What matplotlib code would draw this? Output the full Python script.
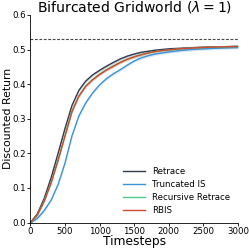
import matplotlib
matplotlib.use("Agg")
import matplotlib.pyplot as plt
import numpy as np

timesteps = [0, 100, 200, 300, 400, 500, 600, 700, 800, 900, 1000, 1100, 1200, 1300,
             1400, 1500, 1600, 1700, 1800, 1900, 2000, 2200, 2400, 2600, 2800, 3000]
retrace = [0, 0.025, 0.07, 0.13, 0.20, 0.272, 0.338, 0.382, 0.409, 0.427, 0.440, 0.452,
           0.463, 0.473, 0.481, 0.487, 0.492, 0.495, 0.498, 0.500, 0.502, 0.504, 0.506,
           0.507, 0.508, 0.509]
truncated_is = [0, 0.012, 0.035, 0.065, 0.11, 0.172, 0.25, 0.308, 0.346, 0.375, 0.398, 0.416,
                0.430, 0.442, 0.455, 0.467, 0.476, 0.482, 0.487, 0.490, 0.493, 0.498, 0.501,
                0.503, 0.505, 0.506]
recursive_retrace = [0, 0.022, 0.063, 0.116, 0.181, 0.252, 0.322, 0.366, 0.395, 0.414, 0.429,
                     0.442, 0.453, 0.463, 0.472, 0.479, 0.485, 0.490, 0.494, 0.497, 0.499,
                     0.503, 0.505, 0.507, 0.508, 0.509]
rbis = [0, 0.022, 0.062, 0.115, 0.18, 0.25, 0.32, 0.365, 0.394, 0.413, 0.428, 0.441, 0.452,
        0.463, 0.472, 0.479, 0.485, 0.490, 0.494, 0.497, 0.499, 0.503, 0.505, 0.507, 0.508,
        0.509]
optimal = 0.53

names = ["Retrace", "Truncated IS", "Recursive Retrace", "RBIS"]
series = [retrace, truncated_is, recursive_retrace, rbis]
colors = ["#2c3e50", "#3a93d6", "#4fcb85", "#d2492f"]

fig = plt.figure(figsize=(2.49, 2.49), dpi=100)
ax = fig.add_axes([0.122, 0.106, 0.834, 0.834])

t = np.array(timesteps)
for name, vals, c in zip(names, series, colors):
    v = np.array(vals)
    ax.fill_between(t, v - 0.004, v + 0.004, color=c, alpha=0.2, linewidth=0)
    ax.plot(t, v, color=c, lw=1.0, label=name)

ax.axhline(optimal, color="#444444", ls="--", lw=0.8, dashes=(2.5, 1.5))

ax.set_xlim(0, 3000)
ax.set_ylim(0, 0.6)
ax.set_xticks([0, 500, 1000, 1500, 2000, 2500, 3000])
ax.set_yticks([0.0, 0.1, 0.2, 0.3, 0.4, 0.5, 0.6])
ax.tick_params(labelsize=6.2, length=2.5, width=0.6, pad=1.0)
for s in ["top", "right"]:
    ax.spines[s].set_visible(False)
for s in ["left", "bottom"]:
    ax.spines[s].set_linewidth(0.6)

ax.set_title(r"Bifurcated Gridworld ($\lambda=1$)", fontsize=10.1, pad=1)
ax.set_xlabel("Timesteps", fontsize=8.8, labelpad=-1)
ax.set_ylabel("Discounted Return", fontsize=7.8)
ax.yaxis.set_label_coords(-0.082, 0.5)

ax.legend(loc="lower right", frameon=False, fontsize=6.2, handlelength=2.6,
          handletextpad=0.8, labelspacing=0.45, borderaxespad=0.5)

fig.savefig("out.png", dpi=100)
